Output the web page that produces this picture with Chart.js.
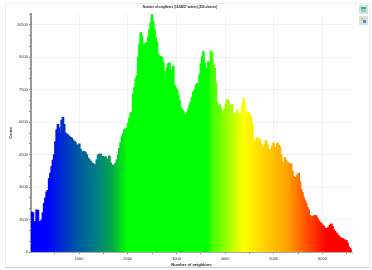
<!DOCTYPE html>
<html>
<head>
<meta charset="utf-8">
<title>Number of neighbors</title>
<script src="https://cdn.jsdelivr.net/npm/chart.js@4"></script>
<style>
html, body { margin: 0; padding: 0; background: #fff; }
#wrap { position: relative; width: 372px; height: 270px; overflow: hidden; }
#frame { position: absolute; left: 5px; top: 3px; width: 363px; height: 263px;
    border: 1px solid #eee; border-bottom-color: #ccc; box-sizing: content-box; }
canvas { position: absolute; left: 0; top: 0; filter: blur(0.35px); }
.btn { position: absolute; left: 359px; width: 9px; height: 9px; background: #ddd; }
.btn div { position: absolute; }
</style>
</head>
<body>
<div id="wrap">
    <div id="frame"></div>
    <canvas id="myChart" width="372" height="270"></canvas>
    <div class="btn" style="top:5px">
        <div style="left:2px;top:2px;width:5px;height:2px;background:#1fc06a"></div>
        <div style="left:2px;top:4px;width:5px;height:3px;background:#8cc8ec"></div>
    </div>
    <div class="btn" style="top:16px">
        <div style="left:2px;top:2px;width:2px;height:2px;background:#e8c040"></div>
        <div style="left:4px;top:4px;width:3px;height:3px;background:#2a9ac8"></div>
    </div>
</div>
<script>
const titleText = "Number of neighbors (1324557 values) (256 classes)";
const xTitle = "Number of neighbors";
const yTitle = "Count";

const firstBin = 25;
const binWidth = 25.76;

// counts per class
const counts = [
    1850,1820,1400,1420,1950,1930,1420,1400,1480,1820,2250,2500,2780,2850,3400,3650,
    3950,4250,4500,5100,5650,5900,5750,5500,6100,6230,5900,5500,5460,5420,5350,5300,
    5270,5180,5120,5060,4950,4800,5000,4750,4420,4650,4660,4600,4500,4350,4280,4200,
    4120,4090,4050,4030,4260,4490,4520,4540,4400,4420,4390,4400,4070,4300,4440,4120,
    4030,3950,4020,4100,4260,4500,4800,5050,5320,5470,5650,5700,5740,5950,6200,6430,
    6480,7300,7600,8000,8150,9000,9600,10140,10000,9500,9600,9680,9500,9950,10300,10600,
    10970,10650,10300,9900,9700,9150,9030,9050,9000,8750,8350,7960,8500,8700,8750,8400,
    8000,8600,7700,7600,7500,7250,7000,6670,6590,6500,6350,6270,6450,6600,6800,6950,
    7150,7400,7500,7700,7800,7420,8200,8700,9030,9260,8750,8400,8500,8800,8750,9300,
    9200,8650,8500,7800,6900,6550,6800,6640,6500,6340,6600,6850,7050,7000,6800,6790,
    6820,6400,6250,6400,6570,6350,6400,6420,6800,7100,6900,6500,6200,6470,6350,6240,
    5900,5250,5150,5090,5280,4980,5230,5000,4700,4860,5000,5150,5000,4730,4720,4740,
    4900,5040,4640,4850,5040,4950,4860,4500,4150,3900,4380,4250,4130,4110,4090,4060,
    3750,3500,3300,3450,3550,3650,3250,2900,2750,2520,2380,2250,2060,1950,1700,1620,
    1640,1670,1700,1680,1560,1450,1380,1320,1250,1190,1100,1060,1100,1160,1240,1300,
    1180,1030,960,880,800,750,680,640,620,580,560,540,420,240,170,80
];

const xTicks = [500,1000,1500,2000,2500,3000,3500,4000,4500,5000,5500,6000,6500];

const xMin = 12;
const xMax = 6607;
const yMax = 11000;

// colour scale of the histogram
const colorStops = [
    [0,[0,0,255]], [350,[0,0,255]], [1000,[0,90,160]], [1400,[0,130,130]],
    [1700,[0,170,70]], [2000,[0,255,0]], [3680,[0,255,0]], [3700,[50,255,0]],
    [4400,[255,255,0]], [5300,[255,160,0]], [6100,[255,0,0]], [6700,[255,0,0]]
];

function binColor(v) {
    for (let i = 1; i < colorStops.length; i++) {
        if (v <= colorStops[i][0]) {
            const a = colorStops[i-1], b = colorStops[i];
            const t = (v - a[0]) / (b[0] - a[0]);
            const c = a[1].map((n, k) => Math.round(n + (b[1][k] - n) * t));
            return "rgb(" + c.join(",") + ")";
        }
    }
    return "rgb(255,0,0)";
}

const points = counts.map((c, i) => ({ x: firstBin + i * binWidth, y: c }));

new Chart("myChart", {
    type: "bar",
    data: {
        datasets: [{
            data: points,
            backgroundColor: points.map(p => binColor(p.x)),
            borderWidth: 0,
            barPercentage: 1,
            categoryPercentage: 1,
            barThickness: 2
        }]
    },
    options: {
        responsive: false,
        animation: false,
        layout: { padding: { left: 8, right: 20, top: 0, bottom: 3 } },
        plugins: {
            legend: { display: false },
            tooltip: { enabled: false },
            title: {
                display: true,
                text: titleText,
                color: "#222",
                font: { family: "Liberation Sans", size: 3, weight: "bold" },
                padding: { top: 5, bottom: 5.4 }
            }
        },
        scales: {
            x: {
                type: "linear",
                offset: false,
                min: xMin,
                max: xMax,
                // stepSize gets rounded when min and max are both set, so give the ticks directly
                afterBuildTicks: s => { s.ticks = xTicks.map(v => ({ value: v })); },
                afterFit: s => { s.height = 15; },
                title: {
                    display: true,
                    text: xTitle,
                    color: "#222",
                    font: { family: "Liberation Sans", size: 4, weight: "bold" },
                    padding: 0
                },
                border: { color: "#aaa", width: 1 },
                grid: {
                    offset: false,
                    color: c => c.tick && c.tick.value % 1000 === 0 ? "#f1f1f1" : "rgba(0,0,0,0)",
                    tickColor: "#888",
                    tickLength: 2
                },
                ticks: {
                    autoSkip: false,
                    maxRotation: 0,
                    padding: 2,
                    color: "#333",
                    font: { family: "Liberation Sans", size: 4 },
                    callback: v => v % 1000 === 0 ? String(v) : ""
                }
            },
            y: {
                min: 0,
                max: yMax,
                afterFit: s => { s.width = 23; },
                title: {
                    display: true,
                    text: yTitle,
                    color: "#222",
                    font: { family: "Liberation Sans", size: 4, weight: "bold" },
                    padding: 0
                },
                border: { color: "#999", width: 2 },
                grid: {
                    color: c => c.tick && c.tick.value % 1500 === 0 ? "#f1f1f1" : "rgba(0,0,0,0)",
                    tickColor: "#888",
                    tickLength: 2
                },
                ticks: {
                    stepSize: 500,
                    includeBounds: false,
                    autoSkip: false,
                    padding: 1,
                    color: "#333",
                    font: { family: "Liberation Sans", size: 4 },
                    callback: v => v % 1500 === 0 ? String(v) : ""
                }
            }
        }
    }
});
</script>
</body>
</html>
